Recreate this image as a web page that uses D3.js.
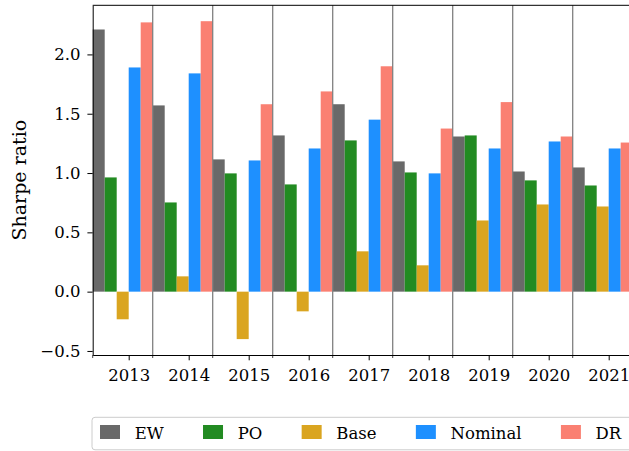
<!DOCTYPE html>
<html>
<head>
<meta charset="utf-8">
<script src="https://cdn.jsdelivr.net/npm/d3@7"></script>
<style>
  body { margin: 0; background: #fff; }
</style>
</head>
<body>
<script>
// Data
let years = [2013, 2014, 2015, 2016, 2017, 2018, 2019, 2020, 2021];
let series = ["EW", "PO", "Base", "Nominal", "DR"];
let colors = ["#696969", "#228b22", "#daa520", "#1e90ff", "#fa8072"];
let ew      = [2.21, 1.57, 1.115, 1.317, 1.58, 1.098, 1.308, 1.013, 1.047];
let po      = [0.963, 0.752, 0.997, 0.904, 1.275, 1.005, 1.317, 0.938, 0.895];
let base    = [-0.233, 0.129, -0.40, -0.166, 0.34, 0.222, 0.60, 0.735, 0.718];
let nominal = [1.89, 1.84, 1.106, 1.207, 1.45, 0.997, 1.207, 1.266, 1.207];
let dr      = [2.27, 2.28, 1.58, 1.688, 1.90, 1.375, 1.598, 1.308, 1.257];
let yTicks  = [-0.5, 0.0, 0.5, 1.0, 1.5, 2.0];

let values = [ew, po, base, nominal, dr];
let barW = 0.2;
let serif = "DejaVu Serif";

// Set the dimensions and margins of the graph
let W = 629, H = 451;
let margin = { top: 5.3, left: 92.7, bottom: 96 };
let plotW = 540;
let plotH = H - margin.top - margin.bottom;

let svg = d3.select("body")
  .append("svg")
    .attr("width", W)
    .attr("height", H)
    .style("font-family", serif);

let g = svg.append("g")
  .attr("transform", "translate(" + margin.left + "," + margin.top + ")");

// x: ticks sit on the edge between Base and Nominal
let x = d3.scaleLinear()
  .domain([years[0] - 3 * barW, years[years.length - 1] + 2 * barW])
  .range([0, plotW]);

let all = values.flat();
let lo = d3.min(all), hi = d3.max(all), pad = (hi - lo) * 0.05;
let y = d3.scaleLinear()
  .domain([lo - pad, hi + pad])
  .range([plotH, 0]);

// Draw bars
values.forEach((vals, i) => {
  g.selectAll(".bar" + i)
    .data(vals).enter()
    .append("rect")
      .attr("x", (d, j) => x(years[j] + (i - 3) * barW))
      .attr("y", (d) => y(Math.max(d, 0)))
      .attr("width", x(years[0] + barW) - x(years[0]))
      .attr("height", (d) => Math.abs(y(d) - y(0)))
      .attr("fill", colors[i]);
});

// Year separators
g.selectAll(".sep")
  .data(years.slice(0, -1)).enter()
  .append("line")
    .attr("x1", (d) => x(d + 2 * barW))
    .attr("x2", (d) => x(d + 2 * barW))
    .attr("y1", 0)
    .attr("y2", plotH)
    .attr("stroke", "#808080")
    .attr("stroke-width", 1.3);

// Minor ticks at group edges
let edges = years.map((d) => d - 3 * barW).concat([years[years.length - 1] + 2 * barW]);
g.selectAll(".minor")
  .data(edges).enter()
  .append("line")
    .attr("x1", (d) => x(d))
    .attr("x2", (d) => x(d))
    .attr("y1", plotH)
    .attr("y2", plotH + 3)
    .attr("stroke", "#333")
    .attr("stroke-width", 0.9);

// x-axis
let xAxis = g.append("g")
  .attr("transform", "translate(0," + plotH + ")")
  .call(d3.axisBottom(x)
    .tickValues(years)
    .tickFormat(d3.format("d"))
    .tickSize(5.3)
    .tickSizeOuter(0)
    .tickPadding(9));

// y-axis
let yAxis = g.append("g")
  .call(d3.axisLeft(y)
    .tickValues(yTicks)
    .tickFormat(d3.format(".1f"))
    .tickSize(5.3)
    .tickSizeOuter(0)
    .tickPadding(7));

[xAxis, yAxis].forEach((a) => {
  a.attr("font-family", null).attr("font-size", null);
  a.selectAll("text").attr("fill", "#000").style("font-family", serif).style("font-size", "16.5px");
  a.selectAll("path, line").attr("stroke", "#000").attr("stroke-width", 1);
});

// top spine
g.append("line")
  .attr("x1", 0).attr("x2", plotW)
  .attr("y1", 0).attr("y2", 0)
  .attr("stroke", "#000");

// y-axis label
svg.append("text")
  .attr("transform", "translate(26," + (margin.top + plotH / 2) + ") rotate(-90)")
  .attr("text-anchor", "middle")
  .style("font-family", serif)
  .style("font-size", "19px")
  .text("Sharpe ratio");

// Legend
let leg = svg.append("g");
leg.append("rect")
  .attr("x", 92)
  .attr("y", 417.3)
  .attr("width", 580)
  .attr("height", 32.5)
  .attr("rx", 3)
  .attr("fill", "#fff")
  .attr("stroke", "#cccccc")
  .attr("stroke-width", 1);

let lx = 100;
series.forEach((name, i) => {
  leg.append("rect")
    .attr("x", lx)
    .attr("y", 425)
    .attr("width", 20)
    .attr("height", 14)
    .attr("fill", colors[i]);
  let t = leg.append("text")
    .attr("x", lx + 34.7)
    .attr("y", 438.5)
    .style("font-family", serif)
    .style("font-size", "16.5px")
    .text(name);
  lx = lx + 34.7 + t.node().getComputedTextLength() + 39.3;
});
</script>
</body>
</html>
